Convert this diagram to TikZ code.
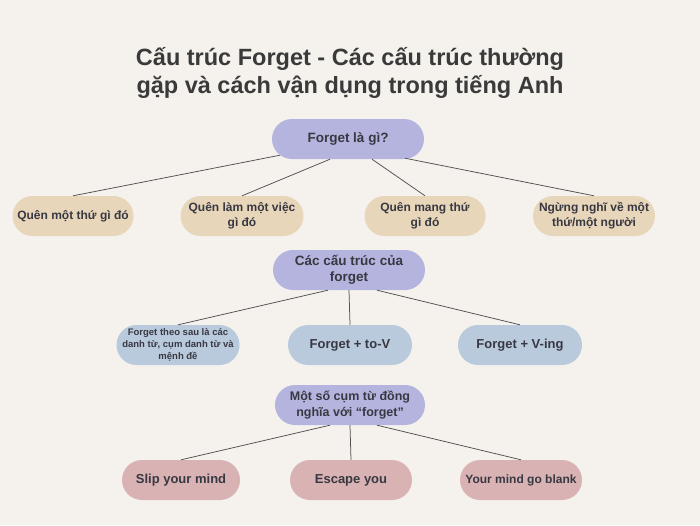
\documentclass[tikz,border=0pt]{standalone}
\usepackage{fontspec}
\setmainfont{Liberation Sans}
\definecolor{bg}{HTML}{F5F2EE}
\definecolor{txt}{HTML}{383842}
\definecolor{ttl}{HTML}{3A3A3A}
\definecolor{purp}{HTML}{B4B4DE}
\definecolor{tan}{HTML}{E8D6BA}
\definecolor{bluegray}{HTML}{B9CADC}
\definecolor{pink}{HTML}{D9B2B4}
\definecolor{ln}{HTML}{505050}
\tikzset{
  pill/.style={rounded corners=20pt, minimum height=40pt, inner sep=2pt, align=center,
    font=\bfseries\fontsize{13}{15}\selectfont, text=txt},
  hub/.style={pill, fill=purp, minimum width=152pt, font=\bfseries\fontsize{13.5}{16}\selectfont},
  tanbox/.style={pill, fill=tan, font=\bfseries\fontsize{12}{15}\selectfont},
  bluebox/.style={pill, fill=bluegray},
  pinkbox/.style={pill, fill=pink},
  conn/.style={draw=ln, line width=0.75pt}
}
\begin{document}
\begin{tikzpicture}[x=1pt,y=-1pt]
\fill[bg] (0,0) rectangle (700,525);
\useasboundingbox (0,0) rectangle (700,525);
\node[align=center, text=ttl, font=\bfseries\fontsize{23.5}{28}\selectfont] (title) at (350,73)
  {Cấu trúc Forget - Các cấu trúc thường\\gặp và cách vận dụng trong tiếng Anh};

\node[hub] (f1) at (348,139) {Forget là gì?};
\node[tanbox, minimum width=121pt] (a1) at (73,216) {Quên một thứ gì đó};
\node[tanbox, minimum width=123pt] (a2) at (242,216) {Quên làm một việc\\gì đó};
\node[tanbox, minimum width=121pt] (a3) at (425,216) {Quên mang thứ\\gì đó};
\node[tanbox, minimum width=122pt] (a4) at (594,216) {Ngừng nghĩ về một\\thứ/một người};

\node[hub] (f2) at (349,270) {Các cấu trúc của\\forget};
\node[bluebox, minimum width=123pt, font=\bfseries\fontsize{9.5}{12}\selectfont] (b1) at (178,345)
  {Forget theo sau là các\\danh từ, cụm danh từ và\\mệnh đề};
\node[bluebox, minimum width=124pt] (b2) at (350,345) {Forget + to-V};
\node[bluebox, minimum width=124pt] (b3) at (520,345) {Forget + V-ing};

\node[hub, minimum width=150pt, font=\bfseries\fontsize{12.5}{16}\selectfont] (f3) at (350,405) {Một số cụm từ đồng\\nghĩa với “forget”};
\node[pinkbox, minimum width=118pt] (c1) at (181,480) {Slip your mind};
\node[pinkbox, minimum width=122pt] (c2) at (351,480) {Escape you};
\node[pinkbox, minimum width=122pt, font=\bfseries\fontsize{12}{15}\selectfont] (c3) at (521,480) {Your mind go blank};

\draw[conn] ([xshift=-68pt,yshift=4pt]f1.south) -- (a1.north);
\draw[conn] ([xshift=-18pt]f1.south) -- (a2.north);
\draw[conn] ([xshift=24pt]f1.south) -- (a3.north);
\draw[conn] ([xshift=57pt,yshift=1pt]f1.south) -- (a4.north);
\draw[conn] ([xshift=-21pt]f2.south) -- (b1.north);
\draw[conn] (f2.south) -- (b2.north);
\draw[conn] ([xshift=28pt]f2.south) -- (b3.north);
\draw[conn] ([xshift=-20pt]f3.south) -- (c1.north);
\draw[conn] (f3.south) -- (c2.north);
\draw[conn] ([xshift=27pt]f3.south) -- (c3.north);
\end{tikzpicture}
\end{document}
